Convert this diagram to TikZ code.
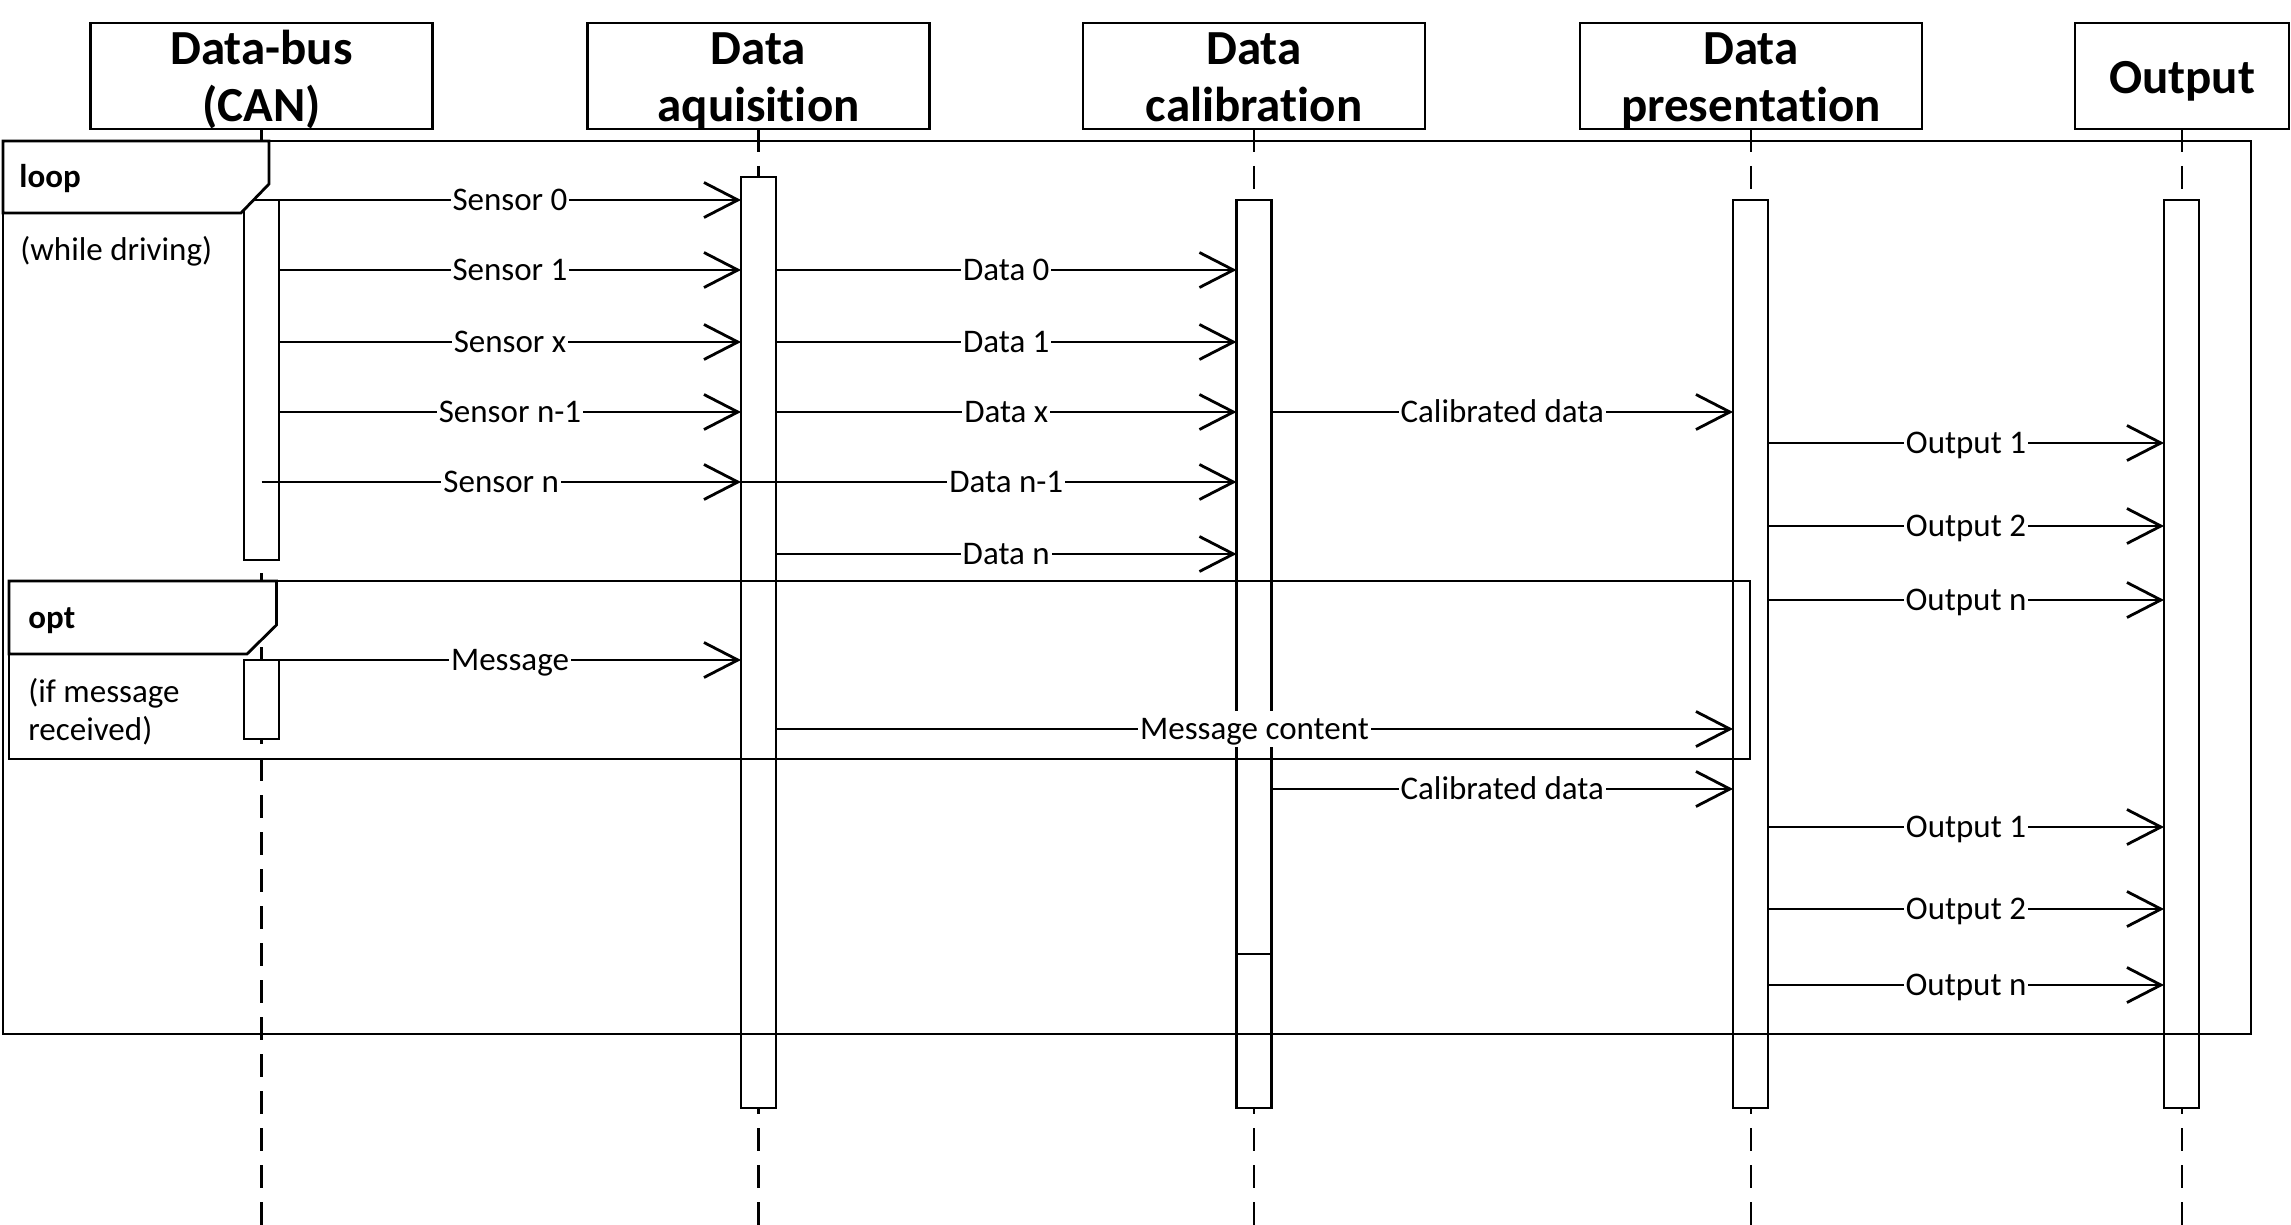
\documentclass[tikz,border=0pt]{standalone}
\usepackage{fontspec}
\setmainfont{Carlito}[Ligatures=NoCommon]
\usetikzlibrary{arrows.meta}
\begin{document}
\begin{tikzpicture}[x=0.5pt,y=-0.5pt,
  lw/.style={line width=1.4pt},
  head/.style={draw, line width=1.4pt, rectangle, minimum height=53pt, inner sep=0pt, outer sep=0pt},
  htext/.style={anchor=base, inner sep=0pt, font=\fontsize{24.5}{28.5}\selectfont\bfseries},
  life/.style={line width=1.2pt, dash pattern=on 11.5pt off 7pt},
  act/.style={draw, fill=white, line width=1.4pt, minimum width=17.5pt, inner sep=0pt, outer sep=0pt},
  frm/.style={line width=1.4pt},
  tabshape/.style={line width=1.4pt, fill=white},
  msg/.style={line width=1.4pt, -{Straight Barb[length=17pt,width=17.5pt,line width=1.4pt]}},
  lbl/.style={fill=white, inner xsep=1pt, inner ysep=4pt, text height=10.4pt, text depth=0pt, font=\fontsize{16.5}{19}\selectfont, midway},
  ftext/.style={anchor=west, inner sep=0pt, font=\fontsize{16.5}{19}\selectfont, align=left},
  fbold/.style={anchor=west, inner sep=0pt, font=\fontsize{16.5}{19}\selectfont\bfseries},
]
\useasboundingbox (0,0) rectangle (2291,1225);
\coordinate (bot) at (0,1225);

% header boxes
\node[head, minimum width=171pt] (h1) at (261.5,76) {};
\node[head, minimum width=171pt] (h2) at (758.5,76) {};
\node[head, minimum width=171pt] (h3) at (1254,76) {};
\node[head, minimum width=171pt] (h4) at (1751,76) {};
\node[head, minimum width=107pt] (h5) at (2182,76) {};
\node[htext] (h1a) at (261.5,65) {Data-bus};
\node[htext] (h1b) at (261.5,121.5) {(CAN)};
\node[htext] (h2a) at (758.5,65) {Data};
\node[htext] (h2b) at (758.5,121.5) {aquisition};
\node[htext] (h3a) at (1254,65) {Data};
\node[htext] (h3b) at (1254,121.5) {calibration};
\node[htext] (h4a) at (1751,65) {Data};
\node[htext] (h4b) at (1751,121.5) {presentation};
\node[htext] (h5a) at (2182,93.5) {Output};

% lifelines
\foreach \h in {h1,h2,h3,h4,h5} \draw[life] (\h.south) -- (\h.south |- bot);

% activation boxes
\node[act, minimum height=180pt] (a1) at (261.5,380) {};
\node[act, minimum height=39.5pt] (a1b) at (261.5,699.5) {};
\node[act, minimum height=465.5pt] (a2) at (758.5,642.5) {};
\node[act, minimum height=454pt] (a3) at (1254,654) {};
\node[act, minimum height=454pt] (a4) at (1750.5,654) {};
\node[act, minimum height=454pt] (a5) at (2181.5,654) {};
\draw[lw] (a3.west |- 0,954) -- (a3.east |- 0,954);

% frames
\draw[frm] (3,141) rectangle (2251,1034);
\draw[tabshape] (3,141) -- (269,141) -- (269,184) -- (241,213) -- (3,213) -- cycle;
\draw[frm] (9,581) rectangle (1750,759);
\draw[tabshape] (9,581) -- (276.5,581) -- (276.5,625) -- (247,654) -- (9,654) -- cycle;

\node[fbold] (tloop) at (19,179) {loop};
\node[ftext] (twhile) at (20,251) {(while driving)};
\node[fbold] (topt) at (28,621) {opt};
\node[ftext] (tif) at (28,712) {(if message\\received)};

% messages: data-bus -> acquisition
\draw[msg] (a1.north east) -- (a2.west |- a1.north east) node[lbl] {Sensor 0};
\draw[msg] (a1.east |- 0,270) -- (a2.west |- 0,270) node[lbl] {Sensor 1};
\draw[msg] (a1.east |- 0,342) -- (a2.west |- 0,342) node[lbl] {Sensor x};
\draw[msg] (a1.east |- 0,412) -- (a2.west |- 0,412) node[lbl] {Sensor n-1};
\draw[msg] (a1.center |- 0,482) -- (a2.west |- 0,482) node[lbl] {Sensor n};

% acquisition -> calibration
\draw[msg] (a2.east |- 0,270) -- (a3.west |- 0,270) node[lbl] {Data 0};
\draw[msg] (a2.east |- 0,342) -- (a3.west |- 0,342) node[lbl] {Data 1};
\draw[msg] (a2.east |- 0,412) -- (a3.west |- 0,412) node[lbl] {Data x};
\draw[lw] (a2.west |- 0,482) -- (a2.east |- 0,482);
\draw[msg] (a2.east |- 0,482) -- (a3.west |- 0,482) node[lbl] {Data n-1};
\draw[msg] (a2.east |- 0,554) -- (a3.west |- 0,554) node[lbl] {Data n};

% calibration -> presentation -> output
\draw[msg] (a3.east |- 0,412) -- (a4.west |- 0,412) node[lbl] {Calibrated data};
\draw[msg] (a4.east |- 0,443) -- (a5.west |- 0,443) node[lbl] {Output 1};
\draw[msg] (a4.east |- 0,526) -- (a5.west |- 0,526) node[lbl] {Output 2};
\draw[msg] (a4.east |- 0,600) -- (a5.west |- 0,600) node[lbl] {Output n};

% opt part
\draw[msg] (a1b.north east) -- (a2.west |- a1b.north east) node[lbl] {Message};
\draw[msg] (a2.east |- 0,729) -- (a4.west |- 0,729) node[lbl] {Message content};

% after opt
\draw[msg] (a3.east |- 0,789) -- (a4.west |- 0,789) node[lbl] {Calibrated data};
\draw[msg] (a4.east |- 0,827) -- (a5.west |- 0,827) node[lbl] {Output 1};
\draw[msg] (a4.east |- 0,909) -- (a5.west |- 0,909) node[lbl] {Output 2};
\draw[msg] (a4.east |- 0,985) -- (a5.west |- 0,985) node[lbl] {Output n};
\end{tikzpicture}
\end{document}
